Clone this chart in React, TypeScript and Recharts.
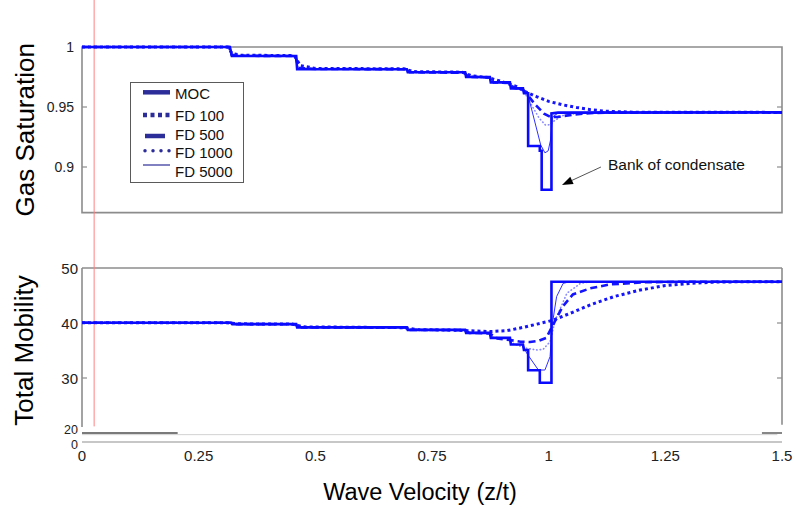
import React from 'react';
import { ComposedChart, Line, XAxis, YAxis, ReferenceLine, ReferenceArea, Legend } from 'recharts';

// ---------- tick labels / categories ----------
const xTicks = [0, 0.25, 0.5, 0.75, 1, 1.25, 1.5];
const satTicks = [0.9, 0.95, 1];
const mobTicks = [20, 30, 40, 50];
const seriesNames = ['MOC', 'FD 100', 'FD 500', 'FD 1000', 'FD 5000'];
const annotationText = 'Bank of condensate';
const redMarkerX = 0.026;

// ---------- Gas saturation series [x, value] ----------
const satMOC: [number, number][] = [
  [0, 1], [0.317, 1], [0.321, 0.9925], [0.459, 0.9925], [0.461, 0.9815], [0.696, 0.9815],
  [0.698, 0.979], [0.821, 0.979], [0.823, 0.975], [0.874, 0.975], [0.876, 0.9705], [0.917, 0.9705],
  [0.919, 0.9655], [0.945, 0.9655], [0.947, 0.9615], [0.956, 0.9615], [0.956, 0.9175], [0.981, 0.9175],
  [0.981, 0.9135], [0.985, 0.9135], [0.985, 0.881], [1.006, 0.881], [1.006, 0.9447], [1.02, 0.9453], [1.5, 0.9455],
];
const satFD100: [number, number][] = [
  [0, 1], [0.312, 1], [0.322, 0.9945], [0.34, 0.9932], [0.455, 0.9928], [0.468, 0.9845], [0.5, 0.9822],
  [0.69, 0.9818], [0.71, 0.9795], [0.815, 0.979], [0.835, 0.976], [0.87, 0.9745], [0.9, 0.9712],
  [0.93, 0.9672], [0.95, 0.9628], [0.975, 0.9585], [1.0, 0.9547], [1.03, 0.9518], [1.06, 0.9496],
  [1.09, 0.9478], [1.12, 0.9465], [1.18, 0.9457], [1.5, 0.9455],
];
const satFD500: [number, number][] = [
  [0, 1], [0.315, 1], [0.321, 0.9935], [0.35, 0.9927], [0.457, 0.9925], [0.464, 0.9825], [0.5, 0.9817],
  [0.695, 0.9815], [0.702, 0.979], [0.82, 0.9785], [0.828, 0.9752], [0.874, 0.9745], [0.882, 0.9705],
  [0.917, 0.97], [0.925, 0.966], [0.945, 0.9645], [0.955, 0.96], [0.97, 0.9525], [0.99, 0.9445],
  [1.005, 0.9415], [1.02, 0.9418], [1.05, 0.9435], [1.08, 0.9447], [1.12, 0.9453], [1.5, 0.9455],
];
const satFD1000: [number, number][] = [
  [0, 1], [0.316, 1], [0.322, 0.993], [0.459, 0.9925], [0.463, 0.982], [0.696, 0.9815], [0.7, 0.979],
  [0.821, 0.9788], [0.826, 0.9752], [0.874, 0.9748], [0.879, 0.9705], [0.917, 0.9703], [0.922, 0.9658],
  [0.945, 0.9648], [0.95, 0.961], [0.965, 0.9505], [0.98, 0.9405], [0.993, 0.935], [1.003, 0.9352],
  [1.012, 0.9385], [1.03, 0.9428], [1.06, 0.9447], [1.1, 0.9454], [1.5, 0.9455],
];
const satFD5000: [number, number][] = [
  [0, 1], [0.317, 1], [0.32, 0.9925], [0.459, 0.9925], [0.461, 0.9815], [0.696, 0.9815], [0.698, 0.979],
  [0.821, 0.979], [0.823, 0.975], [0.874, 0.975], [0.876, 0.9705], [0.917, 0.9705], [0.919, 0.9655],
  [0.945, 0.9648], [0.956, 0.9595], [0.983, 0.9183], [0.992, 0.9118], [0.999, 0.9135], [1.004, 0.9225],
  [1.008, 0.9415], [1.02, 0.945], [1.05, 0.9455], [1.5, 0.9455],
];

// ---------- Total mobility series [x, value] ----------
const mobMOC: [number, number][] = [
  [0, 40.05], [0.32, 40.05], [0.322, 39.8], [0.459, 39.8], [0.461, 39.2], [0.696, 39.2], [0.698, 38.75],
  [0.821, 38.75], [0.823, 38.2], [0.874, 38.2], [0.876, 37.3], [0.917, 37.3], [0.919, 36.1], [0.945, 36.1],
  [0.947, 35.1], [0.956, 35.1], [0.956, 31.4], [0.981, 31.4], [0.981, 29.15], [1.006, 29.15], [1.006, 47.5], [1.5, 47.5],
];
const mobFD100: [number, number][] = [
  [0, 40.05], [0.31, 40.05], [0.335, 39.85], [0.45, 39.8], [0.475, 39.3], [0.69, 39.15], [0.72, 38.8],
  [0.8, 38.7], [0.874, 38.45], [0.91, 38.6], [0.945, 39.2], [0.975, 39.8], [1.009, 40.5], [1.05, 41.9],
  [1.089, 43.3], [1.14, 44.8], [1.196, 46.0], [1.25, 46.8], [1.303, 47.2], [1.36, 47.45], [1.42, 47.5], [1.5, 47.5],
];
const mobFD500: [number, number][] = [
  [0, 40.05], [0.318, 40.05], [0.326, 39.8], [0.457, 39.78], [0.466, 39.2], [0.694, 39.18], [0.703, 38.75],
  [0.82, 38.7], [0.83, 38.2], [0.874, 38.1], [0.89, 37.2], [0.917, 36.9], [0.94, 36.6], [0.96, 36.55],
  [0.98, 36.8], [0.995, 37.3], [1.009, 39.6], [1.03, 43.0], [1.052, 45.2], [1.089, 46.3], [1.13, 47.0],
  [1.2, 47.4], [1.28, 47.5], [1.5, 47.5],
];
const mobFD1000: [number, number][] = [
  [0, 40.05], [0.318, 40.05], [0.324, 39.8], [0.459, 39.8], [0.464, 39.2], [0.696, 39.2], [0.701, 38.75],
  [0.821, 38.75], [0.826, 38.2], [0.874, 38.2], [0.882, 37.3], [0.917, 37.2], [0.925, 36.2], [0.953, 35.4],
  [0.975, 35.1], [0.988, 35.2], [1.003, 36.6], [1.014, 40.5], [1.039, 45.4], [1.068, 47.2], [1.089, 47.5], [1.5, 47.5],
];
const mobFD5000: [number, number][] = [
  [0, 40.05], [0.32, 40.05], [0.323, 39.8], [0.459, 39.8], [0.462, 39.2], [0.696, 39.2], [0.699, 38.75],
  [0.821, 38.75], [0.824, 38.2], [0.874, 38.2], [0.877, 37.3], [0.917, 37.3], [0.92, 36.1], [0.945, 36.05],
  [0.953, 34.5], [0.978, 31.45], [0.992, 31.45], [1.003, 33.9], [1.008, 39.9], [1.017, 44.8], [1.031, 47.2],
  [1.045, 47.5], [1.5, 47.5],
];

// ---------- layout (axis domains chosen to stack the two panels) ----------
const SAT_DOMAIN: [number, number] = [0.670833, 1.039167];
const MOB_DOMAIN: [number, number] = [18.364, 98.727];
const SAT_FRAME: [number, number] = [0.862, 1];
const MOB_FRAME: [number, number] = [20, 50];
const TICK_LEN_X = 0.0107;

const toRows = (pts: [number, number][]) => pts.map(([x, y]) => ({ x, y }));

const styles = [
  { stroke: '#0a0aff', strokeWidth: 2.6, dash: undefined as string | undefined, cap: 'butt' },
  { stroke: '#1414ff', strokeWidth: 3, dash: '3 3', cap: 'butt' },
  { stroke: '#1414ff', strokeWidth: 2.6, dash: '7 4', cap: 'butt' },
  { stroke: '#8a8aff', strokeWidth: 1.6, dash: '0.5 3', cap: 'round' },
  { stroke: '#3030ff', strokeWidth: 1, dash: undefined as string | undefined, cap: 'butt' },
];

const satSeries = [satMOC, satFD100, satFD500, satFD1000, satFD5000];
const mobSeries = [mobMOC, mobFD100, mobFD500, mobFD1000, mobFD5000];
const drawOrder = [3, 4, 2, 1, 0];

const FRAME = '#8c8c8c';
const LEG = '#2d2d9a';
const FONT = "'Liberation Sans', Arial, sans-serif";

const legendRows = [
  { sampleY: 9.3, textY: 10.3, x1: 12, x2: 39, w: 4.5, dash: undefined as string | undefined, cap: 'butt' },
  { sampleY: 32, textY: 32, x1: 12, x2: 40, w: 4.5, dash: '4 3.5', cap: 'butt' },
  { sampleY: 53, textY: 51.3, x1: 14, x2: 34, w: 4.5, dash: undefined as string | undefined, cap: 'butt' },
  { sampleY: 67.7, textY: 69.7, x1: 14, x2: 40, w: 3.5, dash: '0 8', cap: 'round' },
  { sampleY: 82, textY: 88.7, x1: 12, x2: 39, w: 1.2, dash: undefined as string | undefined, cap: 'butt' },
];

const LegendBox = () => (
  <div style={{ width: 114, height: 101, border: '1px solid #5a5a5a', background: '#fff', boxSizing: 'border-box' }}>
    <svg width={112} height={99} style={{ display: 'block' }}>
      {legendRows.map((r, i) => (
        <g key={i}>
          <line x1={r.x1} x2={r.x2} y1={r.sampleY} y2={r.sampleY} stroke={LEG} strokeWidth={r.w}
            strokeDasharray={r.dash} strokeLinecap={r.cap as any} />
          <text x={44} y={r.textY} fontSize={15} fill="#111" dominantBaseline="central" fontFamily={FONT}>
            {seriesNames[i]}
          </text>
        </g>
      ))}
    </svg>
  </div>
);

const rotatedTitle = (text: string, dxFromLeft: number) => (props: any) => {
  const vb = props.viewBox || {};
  const cx = vb.x - dxFromLeft;
  const cy = vb.y + vb.height / 2;
  return (
    <text x={cx} y={cy} transform={`rotate(-90 ${cx} ${cy})`} textAnchor="middle" dominantBaseline="central"
      fontSize={26} fill="#000" fontFamily={FONT}>{text}</text>
  );
};

const MobTick = (props: any) => {
  const { x, y, payload } = props;
  const v = payload.value;
  const isZero = v < 19;
  const isLow = v === 20;
  const fs = isZero || isLow ? 12.5 : 15;
  const dy = isZero ? 3 : isLow ? -3.5 : 0;
  return (
    <text x={x} y={y + dy} textAnchor="end" dominantBaseline="central" fontSize={fs} fill="#222" fontFamily={FONT}>
      {isZero ? '0' : String(v)}
    </text>
  );
};

const ArrowShape = (props: any) => {
  const { x1, y1, x2, y2 } = props;
  const dx = x2 - x1;
  const dy = y2 - y1;
  const len = Math.sqrt(dx * dx + dy * dy);
  const ux = dx / len;
  const uy = dy / len;
  const hl = 11;
  const hw = 4;
  const bx = x2 - ux * hl;
  const by = y2 - uy * hl;
  const p1 = `${bx - uy * hw},${by + ux * hw}`;
  const p2 = `${bx + uy * hw},${by - ux * hw}`;
  return (
    <g>
      <line x1={x1} y1={y1} x2={bx} y2={by} stroke="#555" strokeWidth={1} />
      <polygon points={`${x2},${y2} ${p1} ${p2}`} fill="#000" />
      <text x={x1 + 7} y={y1 - 3} fontSize={15.5} fill="#111" dominantBaseline="central" fontFamily={FONT}>
        {annotationText}
      </text>
    </g>
  );
};

export default function App() {
  const satInner = satTicks.filter((v) => v < SAT_FRAME[1]);
  const mobInner = mobTicks.filter((v) => v > MOB_FRAME[0] && v < MOB_FRAME[1]);
  return (
    <div style={{ position: 'absolute', left: 0, top: 0, background: '#fff', fontFamily: FONT }}>
      <ComposedChart width={795} height={509} margin={{ top: 0, right: 13, bottom: 0, left: 80 }}>
        <XAxis type="number" dataKey="x" domain={[0, 1.5]} ticks={xTicks} interval={0} allowDataOverflow
          tickLine={false} tickSize={0} tickMargin={8} height={67}
          axisLine={{ stroke: '#b4b4b4', strokeWidth: 1.5 }}
          tick={{ fontSize: 15, fill: '#222' }}
          label={(p: any) => {
            const vb = p.viewBox || {};
            return (
              <text x={vb.x + vb.width / 2 - 12} y={vb.y + 50} textAnchor="middle" dominantBaseline="central"
                fontSize={23.5} fill="#000" fontFamily={FONT}>Wave Velocity (z/t)</text>
            );
          }} />
        <YAxis yAxisId="top" type="number" domain={SAT_DOMAIN} ticks={satTicks} interval={0} allowDataOverflow
          width={1} axisLine={false} tickLine={false} tickSize={0} tickMargin={7}
          tick={{ fontSize: 14, fill: '#222' }} tickFormatter={(v: number) => String(v)} />
        <YAxis yAxisId="bot" type="number" domain={MOB_DOMAIN} ticks={[MOB_DOMAIN[0], ...mobTicks]} interval={0}
          allowDataOverflow width={1} axisLine={false} tickLine={false} tickSize={0} tickMargin={4}
          tick={<MobTick />} />

        {/* top panel frame */}
        <ReferenceArea yAxisId="top" x1={0} x2={1.5} y1={SAT_FRAME[0]} y2={SAT_FRAME[1]} fill="none"
          stroke={FRAME} strokeWidth={1.6} fillOpacity={0} label={rotatedTitle('Gas Saturation', 57)} />
        {satInner.map((v) => (
          <ReferenceLine key={'tl' + v} yAxisId="top" segment={[{ x: 0, y: v }, { x: TICK_LEN_X, y: v }]} stroke={FRAME} strokeWidth={1.2} />
        ))}
        {satInner.map((v) => (
          <ReferenceLine key={'tr' + v} yAxisId="top" segment={[{ x: 1.5 - TICK_LEN_X, y: v }, { x: 1.5, y: v }]} stroke={FRAME} strokeWidth={1.2} />
        ))}

        {/* bottom panel frame (partially broken as in reference) */}
        <ReferenceArea yAxisId="bot" x1={0} x2={1.5} y1={MOB_FRAME[0]} y2={MOB_FRAME[1]} fill="none"
          stroke="none" fillOpacity={0} label={rotatedTitle('Total Mobility', 58)} />
        <ReferenceLine yAxisId="bot" y={50} stroke={FRAME} strokeWidth={1.6} />
        <ReferenceLine yAxisId="bot" segment={[{ x: 0, y: 50 }, { x: 0, y: 21.1 }]} stroke={FRAME} strokeWidth={1.6} />
        <ReferenceLine yAxisId="bot" segment={[{ x: 1.5, y: 50 }, { x: 1.5, y: 21.5 }]} stroke={FRAME} strokeWidth={1.6} />
        <ReferenceLine yAxisId="bot" segment={[{ x: 0, y: 20 }, { x: 0.205, y: 20 }]} stroke="#7a7a7a" strokeWidth={1.8} />
        <ReferenceLine yAxisId="bot" segment={[{ x: 1.457, y: 20 }, { x: 1.5, y: 20 }]} stroke="#7a7a7a" strokeWidth={1.8} />
        <ReferenceLine yAxisId="bot" segment={[{ x: 0, y: 19.7 }, { x: 1.49, y: 19.7 }]} stroke="#d2d2d2" strokeWidth={1} />
        {mobInner.map((v) => (
          <ReferenceLine key={'bl' + v} yAxisId="bot" segment={[{ x: 0, y: v }, { x: TICK_LEN_X, y: v }]} stroke={FRAME} strokeWidth={1.2} />
        ))}
        {mobInner.map((v) => (
          <ReferenceLine key={'br' + v} yAxisId="bot" segment={[{ x: 1.5 - TICK_LEN_X, y: v }, { x: 1.5, y: v }]} stroke={FRAME} strokeWidth={1.2} />
        ))}

        {/* red marker line */}
        <ReferenceLine yAxisId="bot" segment={[{ x: redMarkerX, y: MOB_DOMAIN[1] }, { x: redMarkerX, y: 21.2 }]}
          stroke="#ff8080" strokeWidth={1} />

        {drawOrder.map((i) => (
          <Line key={'s' + i} yAxisId="top" data={toRows(satSeries[i])} dataKey="y" name={seriesNames[i]}
            type="linear" stroke={styles[i].stroke} strokeWidth={styles[i].strokeWidth}
            strokeDasharray={styles[i].dash} strokeLinecap={styles[i].cap as any}
            dot={false} activeDot={false} isAnimationActive={false} legendType="none" />
        ))}
        {drawOrder.map((i) => (
          <Line key={'m' + i} yAxisId="bot" data={toRows(mobSeries[i])} dataKey="y" name={seriesNames[i]}
            type="linear" stroke={styles[i].stroke} strokeWidth={styles[i].strokeWidth}
            strokeDasharray={styles[i].dash} strokeLinecap={styles[i].cap as any}
            dot={false} activeDot={false} isAnimationActive={false} legendType="none" />
        ))}

        {/* annotation */}
        <ReferenceLine yAxisId="top" segment={[{ x: 1.112, y: 0.9 }, { x: 1.0285, y: 0.885 }]}
          shape={ArrowShape} ifOverflow="visible" />

        <Legend layout="horizontal" align="center" verticalAlign="middle" content={() => <LegendBox />}
          wrapperStyle={{ left: 130, top: 82, width: 114, height: 101 }} />
      </ComposedChart>
    </div>
  );
}
